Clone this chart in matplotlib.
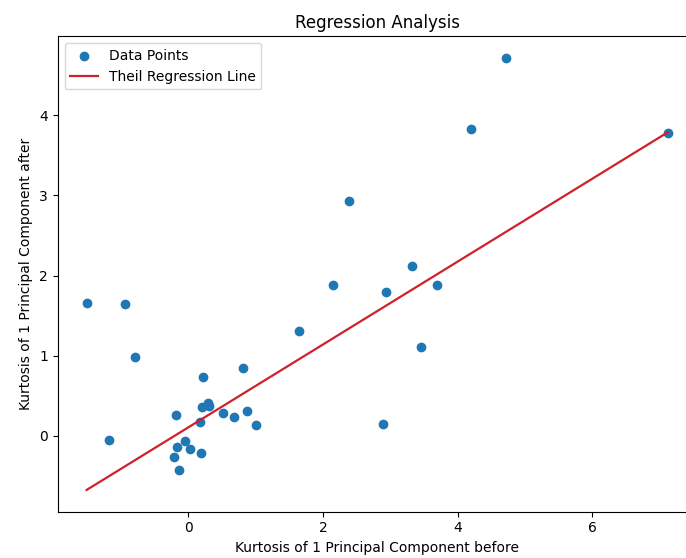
import numpy as np
import matplotlib
matplotlib.use('Agg')
import matplotlib.pyplot as plt

# kurtosis of the first principal component, before vs after
kurt_before = [-1.513, -0.944, -0.790, -1.186, -0.186, 0.196, 0.285, 0.305,
               0.215, 0.805, 0.508, 0.676, 0.874, 0.999, 0.175, -0.056,
               -0.166, 0.022, 0.186, -0.211, -0.141, 1.642, 2.147, 2.389,
               2.939, 2.886, 3.325, 3.450, 3.692, 4.198, 4.722, 7.120]
kurt_after = [1.655, 1.642, 0.981, -0.054, 0.258, 0.358, 0.415, 0.374,
              0.739, 0.844, 0.283, 0.241, 0.308, 0.141, 0.171, -0.066,
              -0.133, -0.166, -0.208, -0.258, -0.424, 1.309, 1.887, 2.926,
              1.796, 0.150, 2.116, 1.113, 1.887, 3.828, 4.713, 3.774]

# Theil-Sen fit
theil_slope = 0.5165
theil_intercept = 0.108

x = np.array(kurt_before)
y = np.array(kurt_after)
xs = np.sort(x)

fig = plt.figure(figsize=(6.86, 5.58), dpi=100)
ax = fig.add_axes([0.084, 0.0833, 0.9316, 0.8515])

ax.scatter(x, y, label='Data Points')
ax.plot(xs, theil_intercept + theil_slope * xs, color='#d0202a', linewidth=1.6,
        label='Theil Regression Line')

ax.set_xlabel('Kurtosis of 1 Principal Component before')
ax.set_ylabel('Kurtosis of 1 Principal Component after')
ax.set_title('Regression Analysis')
ax.legend(loc='upper left')

fig.savefig('out.png', dpi=100)
